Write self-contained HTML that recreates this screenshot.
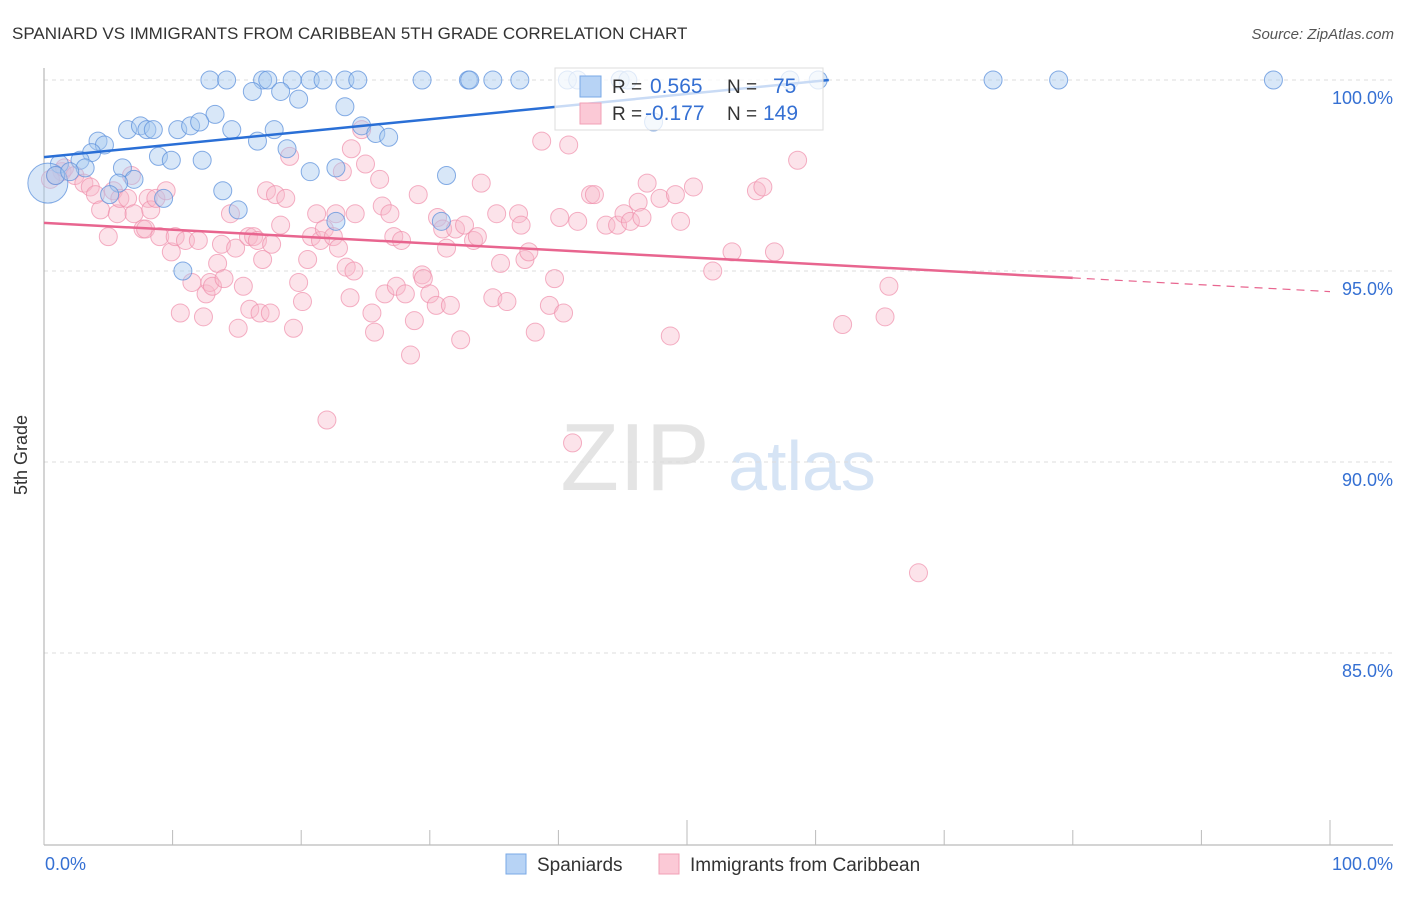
<!DOCTYPE html>
<html><head><meta charset="utf-8"><style>
body{margin:0;background:#fff;font-family:"Liberation Sans",sans-serif}
svg text{font-family:"Liberation Sans",sans-serif}
</style></head><body>
<svg width="1406" height="892" viewBox="0 0 1406 892" xmlns="http://www.w3.org/2000/svg">
<text x="12" y="39" font-size="17" fill="#333">SPANIARD VS IMMIGRANTS FROM CARIBBEAN 5TH GRADE CORRELATION CHART</text>
<text x="1394" y="39" font-size="15" fill="#555" text-anchor="end" font-style="italic">Source: ZipAtlas.com</text>
<g><text x="635" y="490" font-size="96" fill="#e4e4e4" text-anchor="middle" font-family="Liberation Serif">ZIP</text><text x="802" y="490" font-size="70" fill="#d6e4f5" text-anchor="middle">atlas</text></g>
<g id="grid"></g>
<g id="axes"></g>
<g id="pts"></g>
<g id="trend"></g>
<g>
<rect x="555" y="68" width="268" height="62" fill="#fff" fill-opacity="0.75" stroke="#ddd"/>
<rect x="580" y="76" width="21" height="21" fill="#b7d3f5" stroke="#7aa8e6"/>
<text x="612" y="93" font-size="19" fill="#333">R =</text><text x="650" y="93" font-size="21" fill="#3570d3">0.565</text>
<text x="727" y="93" font-size="19" fill="#333">N =</text><text x="773" y="93" font-size="21" fill="#3570d3">75</text>
<rect x="580" y="103" width="21" height="21" fill="#fbc9d6" stroke="#f2a0b6"/>
<text x="612" y="120" font-size="19" fill="#333">R =</text><text x="645" y="120" font-size="21" fill="#3570d3">-0.177</text>
<text x="727" y="120" font-size="19" fill="#333">N =</text><text x="763" y="120" font-size="21" fill="#3570d3">149</text>
</g>
<g>
<rect x="506" y="854" width="20" height="20" fill="#b7d3f5" stroke="#7aa8e6"/>
<text x="537" y="871" font-size="19" fill="#333">Spaniards</text>
<rect x="659" y="854" width="20" height="20" fill="#fbc9d6" stroke="#f2a0b6"/>
<text x="690" y="871" font-size="19" fill="#333">Immigrants from Caribbean</text>
</g>
<text x="27" y="455" font-size="18" fill="#333" text-anchor="middle" transform="rotate(-90 27 455)">5th Grade</text>
</svg>
<script>
const yTicks=[100,95,90,85];
const yTickLabels=["100.0%","95.0%","90.0%","85.0%"];
const xTickLabels=["0.0%","100.0%"];
const blueX=[12.9,14.2,17.0,17.4,19.3,20.7,21.7,23.4,24.4,29.4,33.0,33.1,34.9,37.0,40.7,41.5,44.8,45.4,58.0,60.2,73.8,78.9,95.6,16.2,18.4,19.8,23.4,13.3,17.9,14.6,6.5,7.5,8.0,8.5,10.4,11.4,12.1,16.6,18.9,24.7,25.8,26.8,4.2,4.7,3.7,8.9,9.9,12.3,2.8,1.2,3.2,6.1,20.7,22.7,31.3,7.0,5.8,13.9,5.1,9.3,15.1,22.7,30.9,10.8,47.4,0.3,0.9,2.0];
const blueY=[100,100,100,100,100,100,100,100,100,100,100,100,100,100,100,100,100,100,100,100,100,100,100,99.7,99.7,99.5,99.3,99.1,98.7,98.7,98.7,98.8,98.7,98.7,98.7,98.8,98.9,98.4,98.2,98.8,98.6,98.5,98.4,98.3,98.1,98.0,97.9,97.9,97.9,97.8,97.7,97.7,97.6,97.7,97.5,97.4,97.3,97.1,97.0,96.9,96.6,96.3,96.3,95.0,98.9,97.3,97.5,97.6];
const pinkX=[1.4,0.5,0.9,1.6,2.4,3.1,3.6,4.0,4.4,5.0,5.4,5.7,5.9,6.5,6.8,7.0,7.7,7.9,8.1,8.3,8.7,9.0,9.5,9.9,10.2,10.6,11.0,11.5,12.0,12.4,12.6,12.9,13.1,13.5,13.8,14.0,14.5,14.9,15.1,15.5,15.9,16.0,16.3,16.6,16.8,17.0,17.3,17.6,17.7,18.0,18.4,18.8,19.1,19.4,19.8,20.1,20.5,20.8,21.2,21.5,21.8,22.0,22.5,22.7,22.9,23.2,23.5,23.8,24.1,24.2,23.9,24.7,25.0,25.5,25.7,26.1,26.3,26.5,26.9,27.2,27.4,27.8,28.1,28.5,28.8,29.1,29.4,29.5,30.0,30.5,30.6,31.0,31.3,31.6,32.0,32.4,32.7,33.4,33.7,34.0,34.9,35.2,35.5,36.0,36.9,37.1,37.4,37.7,38.2,38.7,39.3,39.7,40.1,40.4,40.8,41.1,41.5,42.5,42.8,43.7,44.6,45.1,45.6,46.2,46.5,46.9,47.9,48.7,49.1,49.5,50.5,52.0,53.5,55.4,55.9,56.8,58.6,62.1,65.4,65.7,68.0];
const pinkY=[97.6,97.4,97.5,97.7,97.5,97.3,97.2,97.0,96.6,95.9,97.1,96.5,96.9,96.9,97.5,96.5,96.1,96.1,96.9,96.6,96.9,95.9,97.1,95.5,95.9,93.9,95.8,94.7,95.8,93.8,94.4,94.7,94.6,95.2,95.7,94.8,96.5,95.6,93.5,94.6,95.9,94.0,95.9,95.8,93.9,95.3,97.1,93.9,95.7,97.0,96.2,96.9,98.0,93.5,94.7,94.2,95.3,95.9,96.5,95.8,96.1,91.1,95.9,96.5,95.6,97.6,95.1,94.3,95.0,96.5,98.2,98.7,97.8,93.9,93.4,97.4,96.7,94.4,96.5,95.9,94.6,95.8,94.4,92.8,93.7,97.0,94.9,94.8,94.4,94.1,96.4,96.1,95.6,94.1,96.1,93.2,96.2,95.8,95.9,97.3,94.3,96.5,95.2,94.2,96.5,96.2,95.3,95.5,93.4,98.4,94.1,94.8,96.4,93.9,98.3,90.5,96.3,97.0,97.0,96.2,96.2,96.5,96.3,96.8,96.4,97.3,96.9,93.3,97.0,96.3,97.2,95.0,95.5,97.1,97.2,95.5,97.9,93.6,93.8,94.6,87.1];
const blueTrend=[97.98,0.0331];
const pinkTrend=[96.26,-0.018];
const NS="http://www.w3.org/2000/svg";
const X0=44,X1=1330,Y100=80,PXPER=38.2;
const sx=v=>X0+v/100*(X1-X0);
const sy=v=>Y100+(100-v)*PXPER;
function mk(tag,attrs,parent){const e=document.createElementNS(NS,tag);for(const k in attrs)e.setAttribute(k,attrs[k]);parent.appendChild(e);return e;}
const grid=document.getElementById('grid'),axes=document.getElementById('axes'),pts=document.getElementById('pts'),trend=document.getElementById('trend');
yTicks.forEach((t,i)=>{
 const l=mk('line',{x1:X0,x2:1393,y1:sy(t),y2:sy(t),stroke:'#ddd','stroke-dasharray':'4,4'},grid);
 
 
 const tx=mk('text',{x:1393,y:sy(t)+24,'font-size':18,fill:'#3570d3','text-anchor':'end'},axes);
 tx.textContent=yTickLabels[i];
 
 
});
const ya=mk('line',{x1:X0,x2:X0,y1:68,y2:845,stroke:'#aaa'},axes);


const xa=mk('line',{x1:X0,x2:1393,y1:845,y2:845,stroke:'#aaa'},axes);


for(let i=0;i<=10;i++){
 const x=sx(i*10);
 const tk=mk('line',{x1:x,x2:x,y1:(i==5||i==10)?820:830,y2:845,stroke:'#bbb'},axes);
 
 
}
[[0,'start'],[100,'end']].forEach((p,i)=>{
 const t=mk('text',{x:i?1393:45,y:870,'font-size':18,fill:'#3570d3','text-anchor':p[1]},axes);
 t.textContent=xTickLabels[i];
 
 
});
pinkX.forEach((v,i)=>{
 const c=mk('circle',{cx:sx(v),cy:sy(pinkY[i]),r:9,fill:'#f8b8ca','fill-opacity':0.4,stroke:'#ef8fab','stroke-opacity':0.7,'stroke-width':1},pts);
 
 
});
blueX.forEach((v,i)=>{
 const c=mk('circle',{cx:sx(v),cy:sy(blueY[i]),r:i==blueX.length-3?20:9,fill:'#a9c9f0','fill-opacity':0.45,stroke:'#5d91dc','stroke-opacity':0.75,'stroke-width':1},pts);
 
 
});
const bEnd=(100-blueTrend[0])/blueTrend[1];
const bl=mk('line',{x1:sx(0),y1:sy(blueTrend[0]),x2:sx(bEnd),y2:sy(100),stroke:'#2a6fd6','stroke-width':2.5},trend);


const pl=mk('line',{x1:sx(0),y1:sy(pinkTrend[0]),x2:sx(80),y2:sy(pinkTrend[0]+80*pinkTrend[1]),stroke:'#e8658f','stroke-width':2.5},trend);


const pd=mk('line',{x1:sx(80),y1:sy(pinkTrend[0]+80*pinkTrend[1]),x2:sx(100),y2:sy(pinkTrend[0]+100*pinkTrend[1]),stroke:'#e8658f','stroke-width':1.2,'stroke-dasharray':'8,6'},trend);


</script>
</body></html>
